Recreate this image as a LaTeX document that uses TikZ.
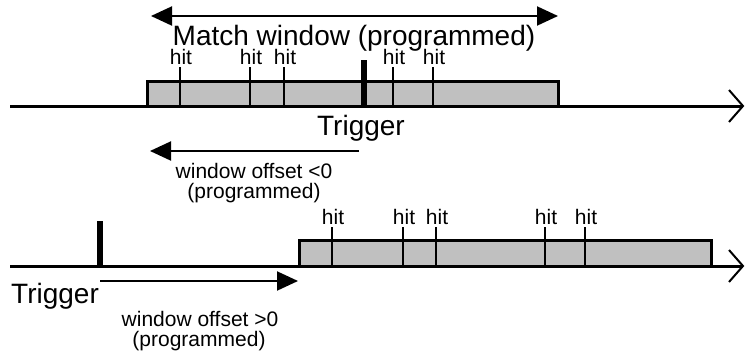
\documentclass[tikz,border=0pt]{standalone}
\usepackage{fontspec}
\setmainfont{Liberation Sans}
\usetikzlibrary{arrows.meta}
\definecolor{wingray}{HTML}{C0C0C0}
\begin{document}
\begin{tikzpicture}[x=1pt,y=-1pt,
  axisline/.style={line width=3pt},
  chev/.style={line width=2pt},
  win/.style={draw, fill=wingray, line width=3pt, inner sep=0pt, anchor=north west},
  hitline/.style={line width=1.5pt},
  trigmark/.style={line width=6pt},
  bigtxt/.style={font=\fontsize{28}{32}\selectfont, inner sep=0pt, anchor=base},
  smalltxt/.style={font=\fontsize{21}{24}\selectfont, inner sep=0pt, anchor=base},
  arr/.style={line width=2pt, -{Triangle[length=21pt,width=19pt]}},
  darr/.style={line width=2pt, {Triangle[length=21pt,width=19pt]}-{Triangle[length=21pt,width=19pt]}}
]
\useasboundingbox (0,0) rectangle (745,359);

% ---------- top part ----------
\coordinate (mwL) at (151,16);
\coordinate (mwR) at (558,16);
\draw[darr] (mwL) -- (mwR);
\node[bigtxt] (mwtxt) at (354,45) {Match window (programmed)};

\node[win, minimum width=411pt, minimum height=25pt] (w1) at (146,80) {};
\coordinate (ax1s) at (10,106);
\coordinate (ax1e) at (743,106);
\draw[axisline] (ax1s) -- (ax1e);
\coordinate (ch1a) at (729,90);
\coordinate (ch1b) at (729,122);
\draw[chev] (ch1a) -- (ax1e) -- (ch1b);

\foreach \x/\n in {180/a,250/b,284/c,393/d,433/e}{
  \coordinate (t1\n) at (\x,67);
  \coordinate (b1\n) at (\x,105);
  \draw[hitline] (t1\n) -- (b1\n);
  \node[smalltxt] (h1\n) at (\x+1,64) {hit};
}
\coordinate (tr1t) at (364,60);
\coordinate (tr1b) at (364,105);
\draw[trigmark] (tr1t) -- (tr1b);
\node[bigtxt] (trig1) at (361,135) {Trigger};

\coordinate (off1s) at (359,151);
\coordinate (off1e) at (150,151);
\draw[arr] (off1s) -- (off1e);
\node[smalltxt] (off1a) at (254,178) {window offset <0};
\node[smalltxt] (off1b) at (254,198) {(programmed)};

% ---------- bottom part ----------
\node[win, minimum width=412pt, minimum height=26pt] (w2) at (298,239) {};
\coordinate (ax2s) at (10,266);
\coordinate (ax2e) at (743,266);
\draw[axisline] (ax2s) -- (ax2e);
\coordinate (ch2a) at (729,250);
\coordinate (ch2b) at (729,282);
\draw[chev] (ch2a) -- (ax2e) -- (ch2b);

\foreach \x/\n in {332/a,403/b,436/c,545/d,585/e}{
  \coordinate (t2\n) at (\x,227);
  \coordinate (b2\n) at (\x,265);
  \draw[hitline] (t2\n) -- (b2\n);
  \node[smalltxt] (h2\n) at (\x+1,224) {hit};
}
\coordinate (tr2t) at (100,221);
\coordinate (tr2b) at (100,265);
\draw[trigmark] (tr2t) -- (tr2b);
\node[bigtxt, anchor=base west] (trig2) at (11,303) {Trigger};

\coordinate (off2s) at (100,281);
\coordinate (off2e) at (298,281);
\draw[arr] (off2s) -- (off2e);
\node[smalltxt] (off2a) at (200,326) {window offset >0};
\node[smalltxt] (off2b) at (199,346) {(programmed)};
\end{tikzpicture}
\end{document}
